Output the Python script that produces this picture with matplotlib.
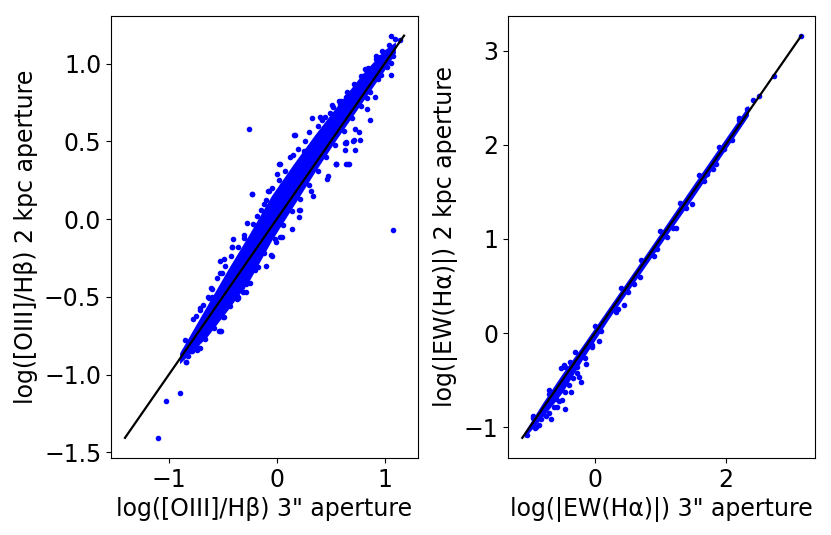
import numpy as np
import matplotlib
matplotlib.use('Agg')
import matplotlib.pyplot as plt

# --- left panel: log([OIII]/Hb), 3" vs 2 kpc aperture ---
# dense core of the cloud (x, lower y, upper y)
oiii_core_x = [-0.90, -0.80, -0.65, -0.45, -0.25, -0.05, 0.15, 0.35, 0.55, 0.80, 1.00, 1.10]
oiii_core_lo = [-0.93, -0.86, -0.76, -0.58, -0.39, -0.14, 0.08, 0.30, 0.51, 0.76, 0.96, 1.07]
oiii_core_hi = [-0.86, -0.74, -0.56, -0.32, -0.09, 0.15, 0.35, 0.54, 0.72, 0.94, 1.09, 1.14]

# individual galaxies around the core
oiii_3 = [1.062, 0.917, 1.021, 1.055, 1.077, -0.259, 0.815, 0.868, 0.726, 0.726,
          0.661, 0.548, 0.640, 0.714, 0.323, 0.406, 0.166, 0.153, 0.030, 0.000,
          -0.225, -0.068, -0.114, -0.277, -0.406, -0.302, -0.413, 0.471, 0.338, 0.215,
          0.203, 0.138, 0.030, 0.317, 0.908, 0.970, 0.739, 0.646, 0.492, 0.585,
          -1.102, -1.025, -0.899, -0.837, -0.776, -0.714, -0.641, -0.739, -0.794, -0.539,
          -0.517, -0.487, -0.369, -0.308, -0.493, -0.530, -0.416, -0.185, -0.102, -0.055,
          -0.006, -0.231, -0.609, 0.517, 0.763, 0.776, 0.707, 0.637, 0.631, 0.545,
          0.668, 0.837, 0.837, 1.060, 0.163, 0.400, 0.024, -0.231, -0.077, -0.185,
          0.554, 0.646, 0.640, 0.467, 0.209, 0.046, -0.170, -0.246, -0.323, -0.046,
          -0.508, -0.524, -0.283, -0.363, -0.631, -0.708, -0.524, -0.714, -0.785, -0.840,
          -0.862, 1.140, 1.100, 0.960, 0.880, 0.600, 0.250, -0.600, 0.050, 0.420,
          # upper edge of the cloud
          -0.85, -0.75, -0.68, -0.60, -0.55, -0.48, -0.42, -0.36, -0.30, -0.22,
          -0.15, -0.10, -0.04, 0.02, 0.08, 0.12, 0.20, 0.26, 0.30, 0.38,
          0.45, 0.52, 0.58, 0.65, 0.72, 0.78, 0.85, 0.92, 0.98, 1.04,
          # lower edge of the cloud
          -0.82, -0.74, -0.66, -0.58, -0.50, -0.43, -0.36, -0.28, -0.20, -0.12,
          -0.02, 0.06, 0.14, 0.22, 0.30, 0.38, 0.46, 0.54, 0.62, 0.70,
          0.78, 0.86, 0.94, 1.02, 1.08]
oiii_2 = [1.180, 1.047, 1.072, 0.929, -0.071, 0.581, 0.966, 0.635, 0.577, 0.442,
          0.353, 0.353, 0.496, 0.506, 0.652, 0.652, 0.538, 0.410, 0.357, 0.293,
          0.160, 0.179, 0.100, -0.024, -0.130, -0.124, -0.178, 0.278, 0.149, 0.062,
          0.015, -0.064, -0.113, 0.179, 0.784, 0.929, 0.844, 0.784, 0.681, 0.742,
          -1.406, -1.171, -1.118, -0.919, -0.641, -0.573, -0.502, -0.825, -0.850, -0.722,
          -0.716, -0.630, -0.513, -0.466, -0.258, -0.348, -0.181, -0.252, -0.299, -0.231,
          -0.145, -0.316, -0.444, 0.737, 0.560, 0.506, 0.500, 0.492, 0.442, 0.353,
          0.353, 0.709, 0.780, 1.002, 0.543, 0.656, 0.357, 0.160, 0.181, 0.019,
          0.357, 0.357, 0.490, 0.261, 0.062, -0.113, -0.305, -0.412, -0.434, -0.237,
          -0.348, -0.267, -0.466, -0.508, -0.508, -0.583, -0.722, -0.829, -0.850, -0.921,
          -0.850, 1.150, 1.160, 1.040, 0.960, 0.760, 0.440, -0.500, 0.220, 0.640,
          -0.78, -0.62, -0.55, -0.45, -0.38, -0.30, -0.24, -0.18, -0.10, -0.03,
          0.06, 0.12, 0.20, 0.25, 0.31, 0.40, 0.45, 0.50, 0.56, 0.60,
          0.66, 0.72, 0.76, 0.82, 0.87, 0.92, 0.97, 1.03, 1.08, 1.12,
          -0.88, -0.84, -0.77, -0.70, -0.63, -0.56, -0.50, -0.42, -0.33, -0.22,
          -0.13, -0.04, 0.05, 0.13, 0.22, 0.31, 0.40, 0.48, 0.57, 0.65,
          0.73, 0.82, 0.90, 0.98, 1.05]

# --- right panel: log(|EW(Ha)|), 3" vs 2 kpc aperture ---
ew_core_x = [-1.08, -0.80, -0.50, -0.20, 0.20, 0.80, 1.50, 2.00, 2.35]
ew_core_lo = [-1.11, -0.89, -0.63, -0.29, 0.14, 0.74, 1.44, 1.95, 2.31]
ew_core_hi = [-1.05, -0.74, -0.43, -0.14, 0.26, 0.86, 1.57, 2.07, 2.42]

ew_3 = [3.156, 2.733, 2.504, 2.327, 1.487, 1.247, 1.716, 1.675, 1.970, 0.061,
        0.443, 0.316, 0.698, -0.208, -0.244, -0.360, -0.463, -0.498, -0.676, -0.916,
        -1.043, -0.829, -0.574, -0.600, -0.269, -0.142, -0.524, -0.473, 2.420, 2.200,
        1.100, 0.500, -0.700, -0.950, -0.380, 1.850, 0.950, -0.050,
        # lower edge of the band
        -0.90, -0.85, -0.75, -0.70, -0.62, -0.55, -0.45, -0.40, -0.33, -0.28,
        -0.15, -0.05, 0.10, 0.35, 0.60, 0.90, 1.20, 1.40, 1.80, 2.10,
        # upper edge of the band
        -0.95, -0.70, -0.45, -0.30, 0.00, 0.40, 0.70, 1.00, 1.30, 1.60, 1.90, 2.20]
ew_2 = [3.158, 2.734, 2.516, 2.376, 1.376, 1.120, 1.692, 1.611, 1.955, -0.087,
        0.295, 0.228, 0.594, -0.519, -0.466, -0.624, -0.800, -0.712, -0.912, -1.003,
        -1.080, -0.905, -0.782, -0.695, -0.361, -0.326, -0.372, -0.337, 2.480, 2.260,
        1.020, 0.440, -0.640, -0.900, -0.300, 1.800, 0.890, -0.130,
        -1.00, -0.97, -0.88, -0.85, -0.78, -0.72, -0.62, -0.55, -0.47, -0.42,
        -0.26, -0.15, 0.02, 0.26, 0.52, 0.82, 1.12, 1.33, 1.74, 2.05,
        -0.88, -0.60, -0.36, -0.20, 0.08, 0.48, 0.78, 1.08, 1.38, 1.68, 1.98, 2.28]

plt.rcParams['font.size'] = 17

fig = plt.figure(figsize=(8.31, 5.35), dpi=100)
ax1 = fig.add_axes([0.1336, 0.144, 0.3694, 0.827])
ax2 = fig.add_axes([0.6117, 0.144, 0.3694, 0.827])

panels = [
    (ax1, oiii_core_x, oiii_core_lo, oiii_core_hi, oiii_3, oiii_2,
     'log([OIII]/H\u03b2) 3" aperture', 'log([OIII]/H\u03b2) 2 kpc aperture'),
    (ax2, ew_core_x, ew_core_lo, ew_core_hi, ew_3, ew_2,
     'log(|EW(H\u03b1)|) 3" aperture', 'log(|EW(H\u03b1)|) 2 kpc aperture'),
]

for ax, cx, clo, chi, x, y, xlab, ylab in panels:
    ax.fill_between(cx, clo, chi, color='b', linewidth=0, zorder=1)
    ax.plot(x, y, 'b.', zorder=2)
    lo = min(min(x), min(y), min(clo))
    hi = max(max(x), max(y), max(chi))
    ax.plot([lo, hi], [lo, hi], 'k-', linewidth=1.6, zorder=3)
    ax.set_xlabel(xlab)
    ax.set_ylabel(ylab)

ax1.set_xticks([-1, 0, 1])
ax1.set_yticks([-1.5, -1.0, -0.5, 0.0, 0.5, 1.0])
ax2.set_xticks([0, 2])
ax2.set_yticks([-1, 0, 1, 2, 3])

fig.savefig('out.png', dpi=100)
